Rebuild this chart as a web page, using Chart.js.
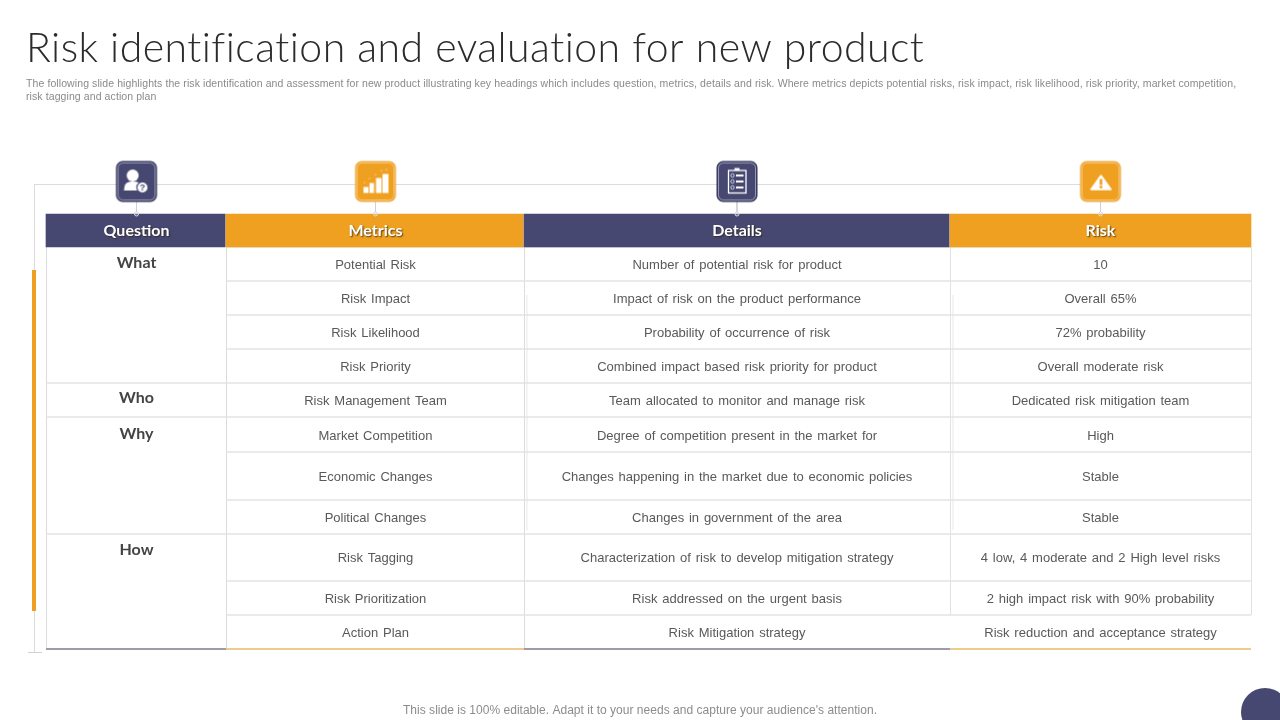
<!DOCTYPE html>
<html><head><meta charset="utf-8">
<style>html,body{margin:0;padding:0;background:#fff}canvas{display:block}</style>
<script src="https://cdn.jsdelivr.net/npm/chart.js@4"></script>
</head><body><canvas id="c" width="1280" height="720" style="width:1280px;height:720px"></canvas>
<script>
const titleText = 'Risk identification and evaluation for new product';
const descLines = ['The following slide highlights the risk identification and assessment for new product illustrating key headings which includes question, metrics, details and risk. Where metrics depicts potential risks, risk impact, risk likelihood, risk priority, market competition,','risk tagging and action plan'];
const footerText = "This slide is 100% editable. Adapt it to your needs and capture your audience's attention.";
const headers = ['Question','Metrics','Details','Risk'];
const questions = ['What','Who','Why','How'];
const metrics = ['Potential Risk','Risk Impact','Risk Likelihood','Risk Priority','Risk Management Team','Market Competition','Economic Changes','Political Changes','Risk Tagging','Risk Prioritization','Action Plan'];
const details = ['Number of potential risk for product','Impact of risk on the product performance','Probability of occurrence of risk','Combined impact based risk priority for product','Team allocated to monitor and manage risk','Degree of competition present in the market for','Changes happening in the market due to economic policies','Changes in government of the area','Characterization of risk to develop mitigation strategy','Risk addressed on the urgent basis','Risk Mitigation strategy'];
const risks = ['10','Overall 65%','72% probability','Overall moderate risk','Dedicated risk mitigation team','High','Stable','Stable','4 low, 4 moderate and 2 High level risks','2 high impact risk with 90% probability','Risk reduction and acceptance strategy'];
const colEdges = [46,226,524,950,1251];
const colCentres = [136.5,375.5,737,1100.5];
const rowEdges = [247,281,315,349,383,417,452,500,534,581,615,649];
const rowText = [265,299,333,367,401,436,477,518,558,599,633];
const questionText = [263,398,434,550];
const NAVY='#474872', ORANGE='#EFA021', GRID='#e3e3e3', FAINT='#f1f1f3', INK='#595959';

function icon(color, ring, glyph){
  const cv=document.createElement('canvas'); cv.width=44; cv.height=44;
  const g=cv.getContext('2d');
  g.beginPath(); g.roundRect(2,2,40,40,6); g.fillStyle=color; g.fill();
  g.lineWidth=1; g.strokeStyle=ring; g.stroke();
  g.beginPath(); g.roundRect(3.5,3.5,37,37,5); g.lineWidth=.8; g.strokeStyle='rgba(255,255,255,.55)'; g.stroke();
  g.fillStyle='#fff'; g.strokeStyle='#fff';
  glyph(g,color); return cv;
}
const glyphPerson=(g,c)=>{
  g.beginPath(); g.arc(18.2,16,6,0,7); g.fill();
  g.beginPath(); g.moveTo(9.5,31); g.lineTo(10,27); g.quadraticCurveTo(11,22,18,22); g.quadraticCurveTo(26,22,29,27); g.lineTo(29,31); g.closePath(); g.fill();
  g.beginPath(); g.arc(28,28,5.6,0,7); g.fillStyle='#fff'; g.fill(); g.strokeStyle=c; g.lineWidth=1.2; g.stroke();
  g.fillStyle=c; g.font='bold 9px "Liberation Sans"'; g.textAlign='center'; g.textBaseline='middle'; g.fillText('?',28,28.3);
};
const glyphBars=(g)=>{
  g.fillRect(10,27.5,5,6); g.fillRect(16,23.5,4.5,10); g.fillRect(22.5,18.5,5.5,15); g.fillRect(29,14.5,6,19);
  [[11,23],[16,19],[22,15],[28,11],[33,10]].forEach(p=>{g.beginPath();g.arc(p[0],p[1],.6,0,7);g.fill();});
};
const glyphClip=(g,c)=>{
  g.lineWidth=1.3; g.strokeRect(13.5,11,17.5,22.5); g.fillRect(19.5,8.5,5,2.5);
  g.lineWidth=.7;
  [16,22,28].forEach(y=>{g.beginPath();g.arc(17.5,y,1.7,0,7);g.stroke();g.fillRect(21,y-1,7.5,2);});
};
const glyphWarn=(g,c)=>{
  g.beginPath(); g.moveTo(22.5,16); g.lineTo(32.5,30); g.lineTo(12.5,30); g.closePath(); g.lineJoin='round'; g.lineWidth=1.5; g.fill(); g.stroke();
  g.fillStyle=c; g.fillRect(21.2,19.5,2.6,6); g.fillRect(21.2,26.3,2.6,2.5);
};
const iconCanvases=[icon(NAVY,'#2f3057',glyphPerson),icon(ORANGE,'#f0b050',glyphBars),icon(NAVY,'#2f3057',glyphClip),icon(ORANGE,'#f0b050',glyphWarn)];

function seg(x0,y0,x1,y1,color,width,order){
  return {type:'line',data:[{x:x0,y:y0},{x:x1,y:y1}],borderColor:color,borderWidth:width||1,pointRadius:0,fill:false,tension:0,borderCapStyle:'butt',order:order===undefined?5:order};
}
const datasets=[];
datasets.push({type:'bar',indexAxis:'y',data:headers.map((h,i)=>({y:230.5,x:[colEdges[i],colEdges[i+1]-(i<3?.8:0)]})),
  backgroundColor:[NAVY,ORANGE,NAVY,ORANGE],barThickness:33,borderWidth:0,order:4,categoryPercentage:1,barPercentage:1});
datasets.push(seg(34.5,184.5,1100,184.5,'#dcdcdc',1));
datasets.push(seg(34.5,184,34.5,652,'#dcdcdc',1));
datasets.push(seg(28,652.5,42,652.5,'#d0d0d0',1));
datasets.push(seg(34,270,34,611,ORANGE,4,2));
rowEdges.slice(0,-1).forEach(y=>datasets.push(seg(226,y,1251,y,GRID,1.5)));
[383,417,534].forEach(y=>datasets.push(seg(46,y,226,y,GRID,1.5)));
datasets.push(seg(46.5,247,46.5,649,'#dcdcdc',1));
datasets.push(seg(226.5,247,226.5,649,'#dcdcdc',1));
datasets.push(seg(524.5,247,524.5,649,'#dcdcdc',1));
datasets.push(seg(950.5,247,950.5,615,'#e2e2e2',1));
datasets.push(seg(1251.5,247,1251.5,615,'#e2e2e2',1));
datasets.push(seg(527,295,527,530,FAINT,1.5));
datasets.push(seg(953,295,953,530,FAINT,1.5));
[[46,226,'#9d9da8'],[226,524,'#eccb8c'],[524,950,'#9d9da8'],[950,1251,'#eccb8c']].forEach(s=>datasets.push(seg(s[0],649,s[1],649,s[2],2.2,3)));
colCentres.forEach(x=>datasets.push(seg(x,201,x,212,'#cfcfd6',1,3)));
datasets.push({type:'scatter',data:colCentres.map(x=>({x,y:214})),pointRadius:2,pointBackgroundColor:'rgba(255,255,255,.2)',pointBorderColor:'#d8d8de',pointBorderWidth:1,order:1});
datasets.push({type:'scatter',data:colCentres.map(x=>({x:x,y:181.5})),pointStyle:iconCanvases,pointRadius:22,order:0});
datasets.push({type:'scatter',data:[{x:1265,y:712}],pointRadius:24,pointBackgroundColor:NAVY,pointBorderWidth:0,order:0,clip:false});

function fit(ctx,text,target){
  ctx.letterSpacing='0px';
  const w=ctx.measureText(text).width;
  ctx.letterSpacing=((target-w)/Math.max(1,text.length-1)).toFixed(3)+'px';
}
const textPlugin={id:'tableText',afterDraw(chart){
  const ctx=chart.ctx, X=chart.scales.x, Y=chart.scales.y;
  const put=(t,x,y,font,color,align)=>{ctx.font=font;ctx.fillStyle=color;ctx.textAlign=align||'center';ctx.textBaseline='middle';ctx.fillText(t,X.getPixelForValue(x),Y.getPixelForValue(y));};
  ctx.save();
  ctx.font='300 41px Lato'; fit(ctx,titleText,899);
  ctx.textAlign='left';ctx.textBaseline='middle';ctx.fillStyle='#2b2b2b';
  ctx.fillText(titleText,X.getPixelForValue(26),Y.getPixelForValue(49));
  ctx.font='10.5px "Liberation Sans"'; fit(ctx,descLines[0],1210);
  ctx.fillStyle='#8a8a8a';
  ctx.fillText(descLines[0],X.getPixelForValue(26),Y.getPixelForValue(84.5));
  ctx.fillText(descLines[1],X.getPixelForValue(26),Y.getPixelForValue(97.5));
  ctx.font='12px "Liberation Sans"'; fit(ctx,footerText,474);
  put(footerText,640,711,'12px "Liberation Sans"','#8c8c8c');
  ctx.letterSpacing='0px';
  ctx.save();
  ctx.shadowColor='rgba(40,30,10,.75)';ctx.shadowBlur=1.5;ctx.shadowOffsetX=1;ctx.shadowOffsetY=1;
  headers.forEach((h,i)=>put(h,colCentres[i],230.5,'700 16px Lato','#ffffff'));
  ctx.restore();
  questions.forEach((q,i)=>put(q,136.5,questionText[i],'700 16px Lato','#444444'));
  const font='13px "Liberation Sans"';
  ctx.wordSpacing='1.2px';
  [metrics,details,risks].forEach((col,c)=>col.forEach((t,i)=>put(t,colCentres[c+1],rowText[i],font,INK)));
  ctx.wordSpacing='0px';
  ctx.restore();
}};
new Chart(document.getElementById('c'),{
  type:'scatter',
  data:{datasets},
  plugins:[textPlugin],
  options:{responsive:false,animation:false,devicePixelRatio:1,
    layout:{padding:0,autoPadding:false},
    plugins:{legend:{display:false},title:{display:false},tooltip:{enabled:false}},
    scales:{
      x:{type:'linear',min:0,max:1280,display:false,offset:false},
      y:{type:'linear',min:0,max:720,reverse:true,display:false,offset:false}
    }}
});
</script></body></html>
